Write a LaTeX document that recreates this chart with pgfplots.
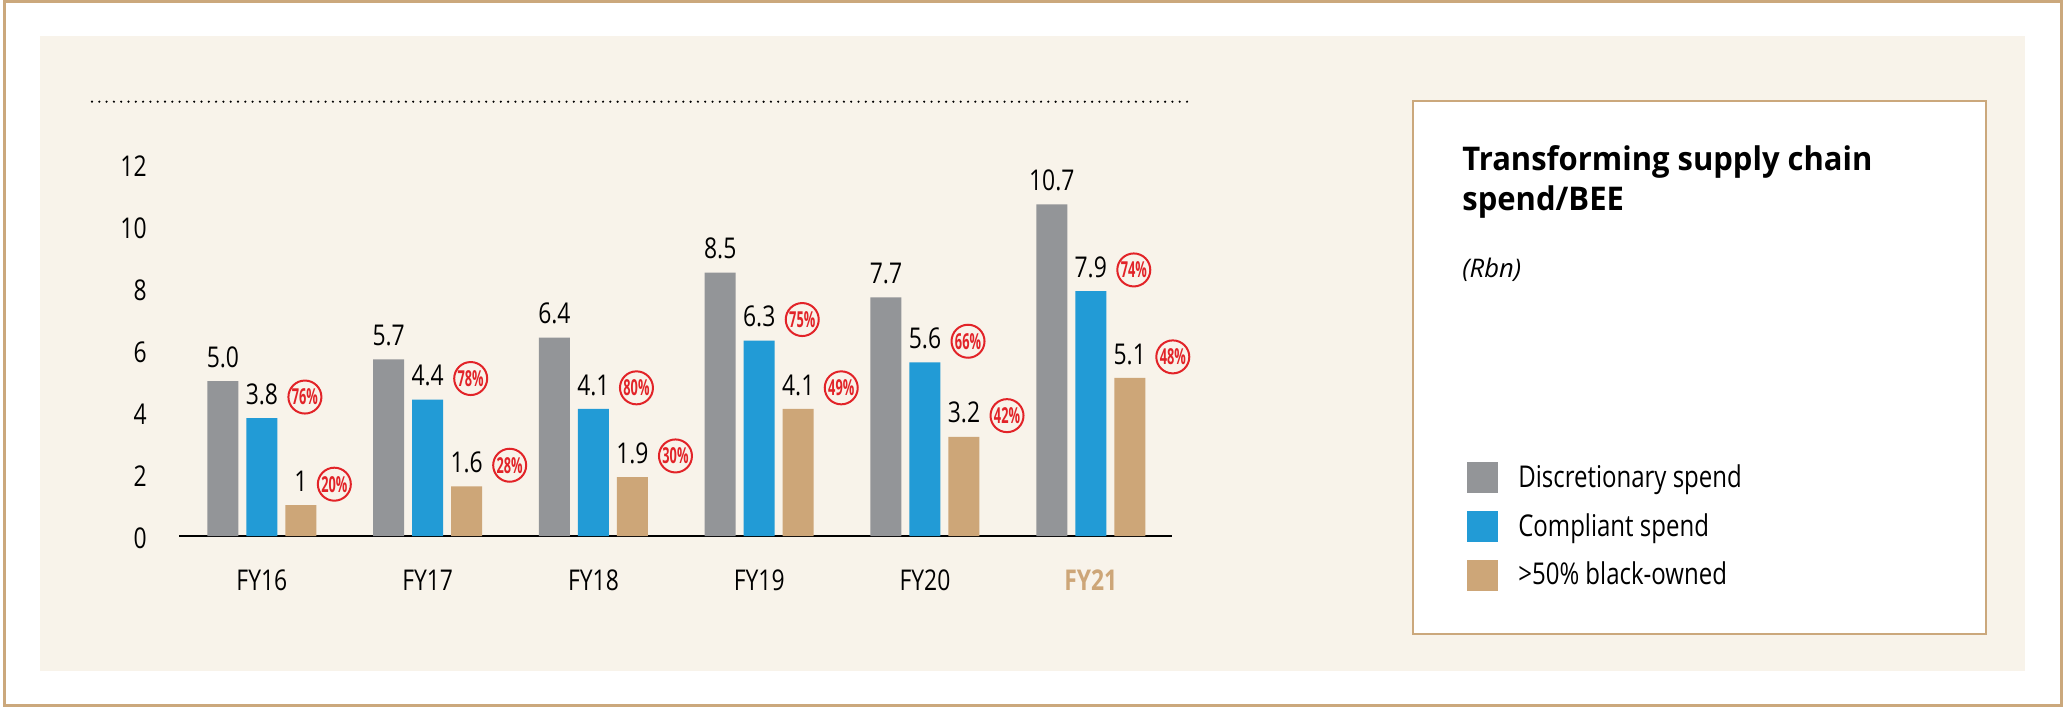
\documentclass[border=0pt]{standalone}
\usepackage{fontspec}
\setmainfont{Open Sans}
\newfontfamily\condfont[FakeStretch=0.8]{Open Sans}
\newfontfamily\pctfont[FakeStretch=0.58]{Open Sans}
\newfontfamily\titlefont[FakeStretch=0.95]{Open Sans}
\usepackage{pgfplots}
\usepackage{pgfplotstable}
\pgfplotsset{compat=1.18}

\definecolor{barGrey}{RGB}{147,149,152}
\definecolor{barBlue}{RGB}{34,155,214}
\definecolor{barTan}{RGB}{205,166,120}
\definecolor{pctRed}{RGB}{226,35,40}
\definecolor{panel}{RGB}{248,243,234}
\definecolor{frameTan}{RGB}{203,168,124}

% Rbn, FY16..FY21
\pgfplotstableread{
x y lab
0 5.0 5.0
1 5.7 5.7
2 6.4 6.4
3 8.5 8.5
4 7.7 7.7
5 10.7 10.7
}\discr
% compliant spend, with share of discretionary spend
\pgfplotstableread{
x y lab pct
0 3.8 3.8 76
1 4.4 4.4 78
2 4.1 4.1 80
3 6.3 6.3 75
4 5.6 5.6 66
5 7.9 7.9 74
}\compl
% >50% black-owned, with share of discretionary spend
\pgfplotstableread{
x y lab pct
0 1.0 1 20
1 1.6 1.6 28
2 1.9 1.9 30
3 4.1 4.1 49
4 3.2 3.2 42
5 5.1 5.1 48
}\black

\pgfplotsset{
  sq legend/.style={legend image code/.code={\fill[##1,draw=none] (0pt,-7.75pt) rectangle (15.5pt,7.75pt);}},
  pct labels/.style={
    visualization depends on={\thisrow{pct}\as\pct},
    every node near coord/.append style={label={[pct circle]0:{\pgfmathprintnumber[fixed,precision=0]{\pct}\%}}}},
}
\tikzset{
  pct circle/.style={circle,draw=pctRed,line width=1pt,inner sep=0pt,minimum size=16.5pt,
    label distance=4.5pt,text=pctRed,font=\pctfont\bfseries\fontsize{11}{11}\selectfont,yshift=-1.4pt},
}

\begin{document}
\begin{tikzpicture}
% page furniture, drawn in pixel units of the 2068x708 reference
\begin{scope}[x=0.5pt,y=0.5pt]
\fill[white] (0,0) rectangle (2068,708);
\draw[frameTan,line width=1.5pt] (4.3,2.5) rectangle (2061,706.5);
\fill[panel] (40,37.3) rectangle (2025,672);
\draw[black,line width=1.2pt,line cap=round,dash pattern=on 0pt off 3.65pt] (92,606.3) -- (1187,606.3);
\draw[frameTan,line width=1pt,fill=white] (1413,74) rectangle (1986,607.3);
\node[anchor=base west,inner sep=0pt,font=\titlefont\bfseries\fontsize{16.3}{20}\selectfont] at (1462,537.3) {Transforming supply chain};
\node[anchor=base west,inner sep=0pt,font=\titlefont\bfseries\fontsize{16.3}{20}\selectfont] at (1462,497.3) {spend/BEE};
\node[anchor=base west,inner sep=0pt,font=\itshape\fontsize{12.8}{15}\selectfont] at (1462,430) {(Rbn)};
\end{scope}

\begin{axis}[
  at={(89.5pt,86pt)},anchor=south west,
  scale only axis,width=496.5pt,height=186pt,
  xmin=-0.5,xmax=5.49,ymin=0,ymax=12,
  ybar=4pt,bar width=15.5pt,
  axis x line*=bottom,axis y line*=left,
  y axis line style={draw=none},
  x axis line style={line width=0.75pt,-},
  xtick={0,...,5},
  xticklabels={FY16,FY17,FY18,FY19,FY20,\textbf{\textcolor{barTan}{FY21}}},
  ytick={0,2,...,12},
  major tick length=0pt,
  tick label style={font=\condfont\fontsize{14.3}{16}\selectfont},
  /pgf/number format/assume math mode=true,
  xticklabel style={anchor=base,inner sep=0pt,yshift=-27pt},
  yticklabel style={anchor=east,inner sep=0pt,xshift=-16pt,yshift=-1pt},
  nodes near coords,point meta=explicit symbolic,
  every node near coord/.append style={font=\condfont\fontsize{14.3}{16}\selectfont,
    inner sep=0pt,yshift=6.5pt,text=black},
  clip=false,
  legend style={at={(1.297,0.204)},anchor=north west,draw=none,fill=none,inner sep=0pt,
    font=\condfont\fontsize{15}{18}\selectfont,row sep=7.5pt,
    /tikz/every odd column/.append style={column sep=8pt}},
  legend cell align=left,
]
\addplot[fill=barGrey,draw=none,sq legend] table[x=x,y=y,meta=lab]{\discr};
\addplot[fill=barBlue,draw=none,sq legend,pct labels] table[x=x,y=y,meta=lab]{\compl};
\addplot[fill=barTan,draw=none,sq legend,pct labels] table[x=x,y=y,meta=lab]{\black};
\legend{Discretionary spend,Compliant spend,>50\% black-owned}
\end{axis}
\end{tikzpicture}
\end{document}
